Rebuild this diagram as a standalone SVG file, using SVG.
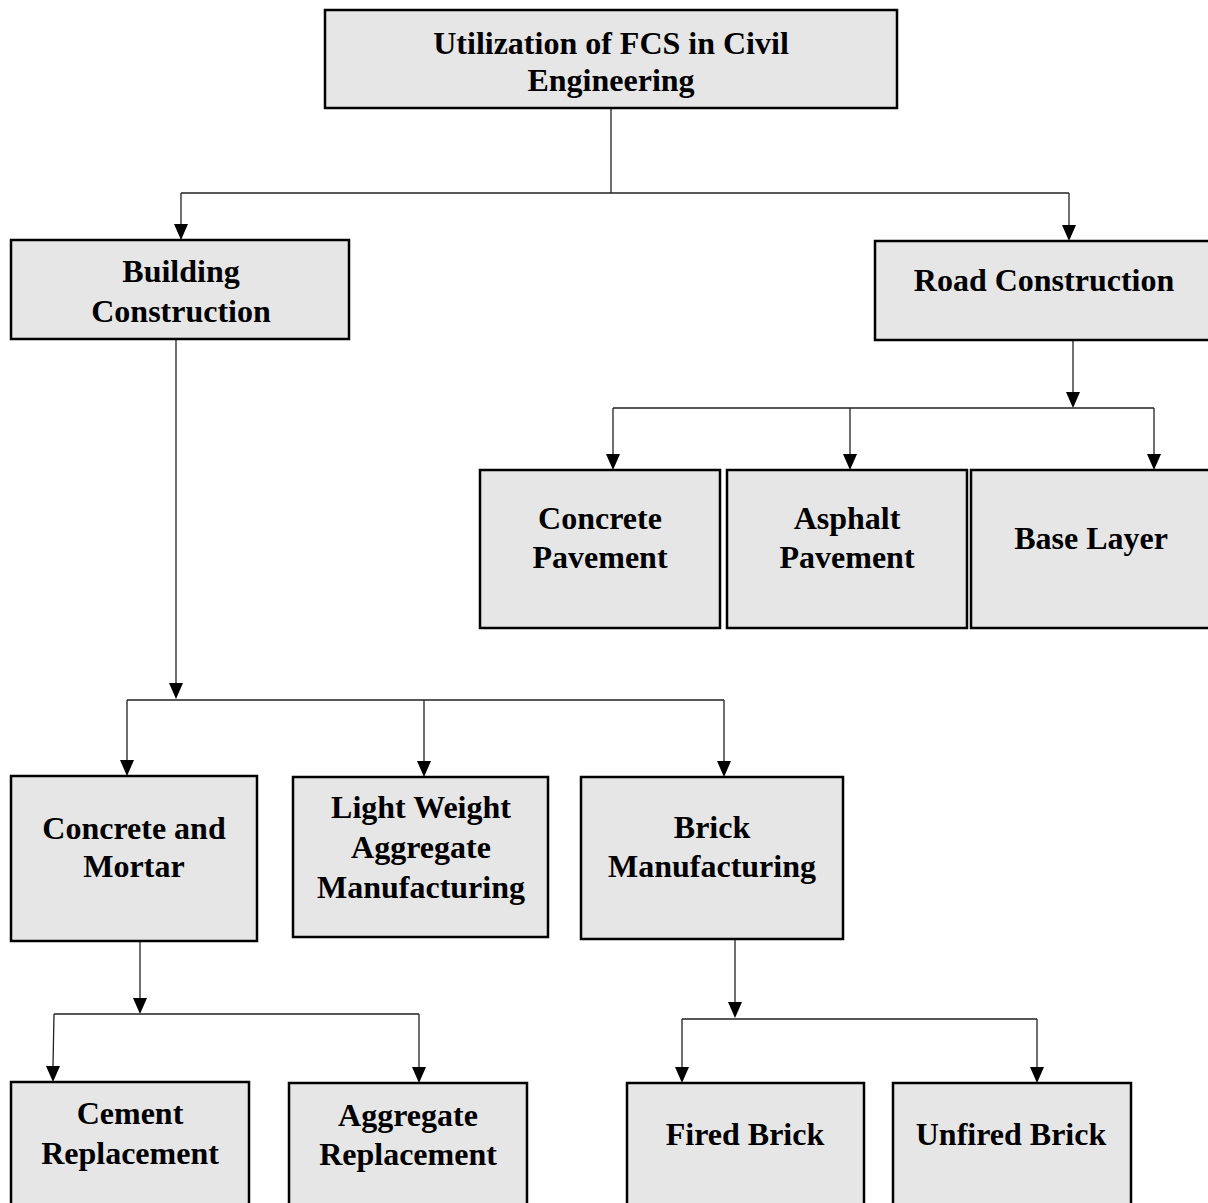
<svg xmlns="http://www.w3.org/2000/svg" width="1208" height="1203" viewBox="0 0 1208 1203">
  <style>
    .box { fill: #e6e6e6; stroke: #000; stroke-width: 2.5; }
    .lbl { font-family: "Liberation Serif", "Times New Roman", Times, serif; font-weight: bold; font-size: 32px; fill: #000; text-anchor: middle; }
    .wire { fill: none; stroke: #222; stroke-width: 1.3; }
  </style>
  <rect width="1208" height="1203" fill="#fff"/>

  <!-- connectors: orthogonal wires with filled triangle heads -->
  <g id="connectors">
    <!-- root to level 1 -->
    <path class="wire" d="M611,108 V193 M181,193 H1069"/>
    <path class="wire" d="M181,193 V224"/>
    <path d="M174,224 L188,224 L181,240 Z"/>
    <path class="wire" d="M1069,193 V225"/>
    <path d="M1062,225 L1076,225 L1069,241 Z"/>

    <!-- road construction branches -->
    <path class="wire" d="M1073,340 V393"/>
    <path d="M1066,392 L1080,392 L1073,408 Z"/>
    <path class="wire" d="M613,408 H1154 M613,408 V454 M850,408 V454 M1154,408 V454"/>
    <path d="M606,454 L620,454 L613,470 Z"/>
    <path d="M843,454 L857,454 L850,470 Z"/>
    <path d="M1147,454 L1161,454 L1154,470 Z"/>

    <!-- building construction branches -->
    <path class="wire" d="M176,339 V684"/>
    <path d="M169,683 L183,683 L176,699 Z"/>
    <path class="wire" d="M127,700 H724 M127,700 V760 M424,700 V761 M724,700 V761"/>
    <path d="M120,760 L134,760 L127,776 Z"/>
    <path d="M417,761 L431,761 L424,777 Z"/>
    <path d="M717,761 L731,761 L724,777 Z"/>

    <!-- concrete and mortar branches -->
    <path class="wire" d="M140,941 V999"/>
    <path d="M133,998 L147,998 L140,1014 Z"/>
    <path class="wire" d="M54,1014 H419 M54,1014 L53,1066 M419,1014 V1067"/>
    <path d="M46,1066 L60,1066 L53,1082 Z"/>
    <path d="M412,1067 L426,1067 L419,1083 Z"/>

    <!-- brick manufacturing branches -->
    <path class="wire" d="M735,939 V1003"/>
    <path d="M728,1002 L742,1002 L735,1018 Z"/>
    <path class="wire" d="M682,1019 H1037 M682,1019 V1067 M1037,1019 V1067"/>
    <path d="M675,1067 L689,1067 L682,1083 Z"/>
    <path d="M1030,1067 L1044,1067 L1037,1083 Z"/>
  </g>

  <g id="root">
    <rect class="box" x="325" y="10" width="572" height="98"/>
    <text class="lbl" x="611" y="54">Utilization of FCS in Civil</text>
    <text class="lbl" x="611" y="91">Engineering</text>
  </g>

  <g id="building">
    <rect class="box" x="11" y="240" width="338" height="99"/>
    <text class="lbl" x="181" y="282">Building</text>
    <text class="lbl" x="181" y="322">Construction</text>
  </g>

  <g id="road">
    <rect class="box" x="875" y="241" width="340" height="99"/>
    <text class="lbl" x="1044" y="291">Road Construction</text>
  </g>

  <g id="concrete-pavement">
    <rect class="box" x="480" y="470" width="240" height="158"/>
    <text class="lbl" x="600" y="529">Concrete</text>
    <text class="lbl" x="600" y="568">Pavement</text>
  </g>

  <g id="asphalt-pavement">
    <rect class="box" x="727" y="470" width="240" height="158"/>
    <text class="lbl" x="847" y="529">Asphalt</text>
    <text class="lbl" x="847" y="568">Pavement</text>
  </g>

  <g id="base-layer">
    <rect class="box" x="971" y="470" width="245" height="158"/>
    <text class="lbl" x="1091" y="549">Base Layer</text>
  </g>

  <g id="concrete-mortar">
    <rect class="box" x="11" y="776" width="246" height="165"/>
    <text class="lbl" x="134" y="839">Concrete and</text>
    <text class="lbl" x="134" y="877">Mortar</text>
  </g>

  <g id="lightweight-aggregate">
    <rect class="box" x="293" y="777" width="255" height="160"/>
    <text class="lbl" x="421" y="818">Light Weight</text>
    <text class="lbl" x="421" y="858">Aggregate</text>
    <text class="lbl" x="421" y="898">Manufacturing</text>
  </g>

  <g id="brick-manufacturing">
    <rect class="box" x="581" y="777" width="262" height="162"/>
    <text class="lbl" x="712" y="838">Brick</text>
    <text class="lbl" x="712" y="877">Manufacturing</text>
  </g>

  <g id="cement-replacement">
    <rect class="box" x="11" y="1082" width="238" height="130"/>
    <text class="lbl" x="130" y="1124">Cement</text>
    <text class="lbl" x="130" y="1164">Replacement</text>
  </g>

  <g id="aggregate-replacement">
    <rect class="box" x="289" y="1083" width="238" height="130"/>
    <text class="lbl" x="408" y="1126">Aggregate</text>
    <text class="lbl" x="408" y="1165">Replacement</text>
  </g>

  <g id="fired-brick">
    <rect class="box" x="627" y="1083" width="237" height="130"/>
    <text class="lbl" x="745" y="1145">Fired Brick</text>
  </g>

  <g id="unfired-brick">
    <rect class="box" x="893" y="1083" width="238" height="130"/>
    <text class="lbl" x="1011" y="1145">Unfired Brick</text>
  </g>
</svg>
